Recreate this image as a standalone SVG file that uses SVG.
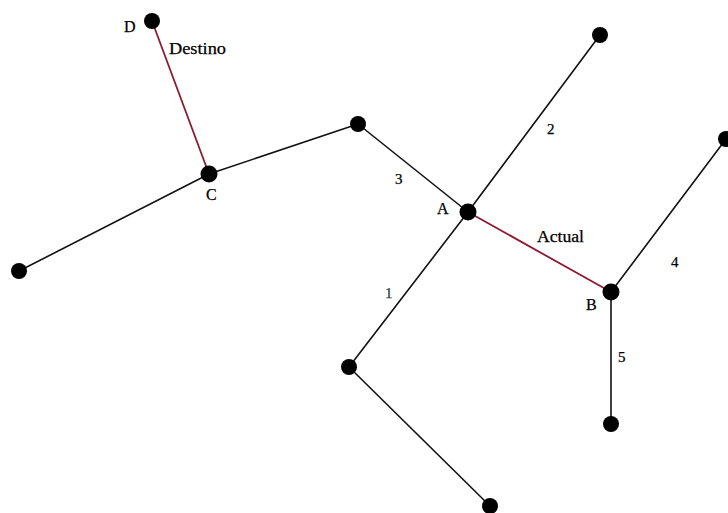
<svg xmlns="http://www.w3.org/2000/svg" width="728" height="513" viewBox="0 0 728 513">
  <style>
    .edge { stroke: #111; stroke-width: 1.6; fill: none; stroke-linecap: round; }
    .path { stroke: #8e1a30; stroke-width: 1.8; fill: none; stroke-linecap: round; }
    .dot { fill: #000; }
    .lbl { font-family: "Liberation Serif", "Times New Roman", serif; font-size: 16px; fill: #000; stroke: #000; stroke-width: 0.25; }
    .num { font-family: "Liberation Serif", "Times New Roman", serif; font-size: 15px; fill: #000; stroke: #000; stroke-width: 0.25; }
  </style>
  <rect width="728" height="513" fill="#fff"/>

  <!-- connectors -->
  <g id="connectors">
    <line class="path" x1="152" y1="21" x2="209" y2="174"/>
    <line class="edge" x1="19" y1="271" x2="209" y2="174"/>
    <line class="edge" x1="209" y1="174" x2="358" y2="124"/>
    <line class="edge" x1="358" y1="124" x2="468" y2="212"/>
    <line class="edge" x1="468" y1="212" x2="600" y2="35"/>
    <line class="path" x1="468" y1="212" x2="611" y2="292"/>
    <line class="edge" x1="468" y1="212" x2="349" y2="367"/>
    <line class="edge" x1="349" y1="367" x2="490" y2="506"/>
    <line class="edge" x1="611" y1="292" x2="726" y2="139"/>
    <line class="edge" x1="611" y1="292" x2="611" y2="424"/>
  </g>

  <!-- nodes -->
  <g id="node-D"><circle class="dot" cx="152" cy="21" r="8"/><text class="lbl" x="124" y="32">D</text></g>
  <g id="node-C"><circle class="dot" cx="209" cy="174" r="8.5"/><text class="lbl" x="206" y="200">C</text></g>
  <g id="node-left"><circle class="dot" cx="19" cy="271" r="8"/></g>
  <g id="node-mid"><circle class="dot" cx="358" cy="124" r="8"/></g>
  <g id="node-A"><circle class="dot" cx="468" cy="212" r="8.5"/><text class="lbl" x="437" y="214">A</text></g>
  <g id="node-top"><circle class="dot" cx="600" cy="35" r="8"/></g>
  <g id="node-right"><circle class="dot" cx="726" cy="139" r="8"/></g>
  <g id="node-B"><circle class="dot" cx="611" cy="292" r="8.5"/><text class="lbl" x="586" y="310">B</text></g>
  <g id="node-B-low"><circle class="dot" cx="611" cy="424" r="8"/></g>
  <g id="node-low-left"><circle class="dot" cx="349" cy="367" r="8"/></g>
  <g id="node-bottom"><circle class="dot" cx="490" cy="506" r="8"/></g>

  <!-- edge labels -->
  <g id="labels">
    <text class="lbl" x="169" y="54" textLength="57" lengthAdjust="spacingAndGlyphs">Destino</text>
    <text class="lbl" x="537" y="242" textLength="47" lengthAdjust="spacingAndGlyphs">Actual</text>
    <text class="num" x="395" y="184">3</text>
    <text class="num" x="547" y="134">2</text>
    <text class="num" x="385" y="298" style="fill:#1f3c4a;stroke:#1f3c4a">1</text>
    <text class="num" x="671" y="267">4</text>
    <text class="num" x="618" y="362">5</text>
  </g>
</svg>
